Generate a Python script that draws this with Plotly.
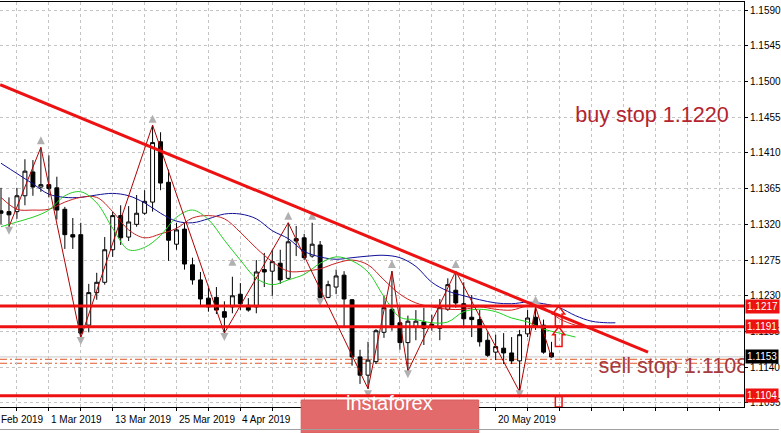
import plotly.graph_objects as go

# ---------------- data (EURUSD daily, bar index 0 = 1 Mar 2019) ----------------
bar_index = list(range(-6, 64))
opens = [1.1337, 1.1336, 1.1336, 1.1356, 1.1386, 1.1367, 1.1370, 1.1366, 1.1339, 1.1307,
         1.1307, 1.1193, 1.1234, 1.1247, 1.1288, 1.1331, 1.1304, 1.1320, 1.1334, 1.1348,
         1.1424, 1.1373, 1.1295, 1.1314, 1.1269, 1.1250, 1.1227, 1.1228, 1.1210, 1.1216,
         1.1232, 1.1218, 1.1216, 1.1263, 1.1261, 1.1271, 1.1252, 1.1302, 1.1303, 1.1280,
         1.1294, 1.1228, 1.1241, 1.1256, 1.1225, 1.1153, 1.1130, 1.1147, 1.1184, 1.1213,
         1.1196, 1.1171, 1.1191, 1.1197, 1.1194, 1.1189, 1.1213, 1.1237, 1.1220, 1.1203,
         1.1200, 1.1174, 1.1159, 1.1164, 1.1158, 1.1148, 1.1182, 1.1203, 1.1193, 1.1158]
highs = [1.1366, 1.1354, 1.1366, 1.1402, 1.1401, 1.1417, 1.1407, 1.1380, 1.1342, 1.1328,
         1.1322, 1.1245, 1.1259, 1.1304, 1.1336, 1.1344, 1.1343, 1.1357, 1.1363, 1.1445,
         1.1436, 1.1389, 1.1322, 1.1322, 1.1278, 1.1260, 1.1240, 1.1241, 1.1223, 1.1254,
         1.1246, 1.1227, 1.1275, 1.1284, 1.1288, 1.1288, 1.1322, 1.1318, 1.1308, 1.1322,
         1.1299, 1.1249, 1.1263, 1.1261, 1.1226, 1.1162, 1.1172, 1.1188, 1.1230, 1.1261,
         1.1216, 1.1205, 1.1212, 1.1215, 1.1206, 1.1226, 1.1252, 1.1261, 1.1247, 1.1231,
         1.1212, 1.1184, 1.1181, 1.1183, 1.1178, 1.1187, 1.1212, 1.1216, 1.1200, 1.1172]
lows = [1.1320, 1.1317, 1.1327, 1.1344, 1.1356, 1.1361, 1.1354, 1.1326, 1.1289, 1.1289,
        1.1177, 1.1184, 1.1225, 1.1244, 1.1279, 1.1294, 1.1299, 1.1317, 1.1332, 1.1336,
        1.1363, 1.1274, 1.1288, 1.1263, 1.1244, 1.1217, 1.1210, 1.1207, 1.1183, 1.1208,
        1.1212, 1.1210, 1.1208, 1.1241, 1.1230, 1.1245, 1.1250, 1.1280, 1.1275, 1.1278,
        1.1226, 1.1227, 1.1232, 1.1191, 1.1142, 1.1119, 1.1113, 1.1144, 1.1177, 1.1186,
        1.1162, 1.1135, 1.1174, 1.1168, 1.1186, 1.1174, 1.1211, 1.1215, 1.1191, 1.1178,
        1.1166, 1.1153, 1.1149, 1.1144, 1.1144, 1.1109, 1.1178, 1.1187, 1.1157, 1.1152]
closes = [1.1334, 1.1332, 1.1356, 1.1387, 1.1367, 1.1370, 1.1365, 1.1338, 1.1307, 1.1304,
          1.1183, 1.1234, 1.1247, 1.1288, 1.1331, 1.1303, 1.1323, 1.1334, 1.1349, 1.1423,
          1.1372, 1.1300, 1.1313, 1.1270, 1.1250, 1.1226, 1.1216, 1.1212, 1.1203, 1.1230,
          1.1220, 1.1212, 1.1260, 1.1260, 1.1273, 1.1250, 1.1298, 1.1299, 1.1278, 1.1295,
          1.1228, 1.1244, 1.1255, 1.1226, 1.1153, 1.1130, 1.1149, 1.1186, 1.1215, 1.1193,
          1.1171, 1.1198, 1.1198, 1.1189, 1.1191, 1.1215, 1.1244, 1.1221, 1.1201, 1.1200,
          1.1172, 1.1155, 1.1166, 1.1158, 1.1148, 1.1181, 1.1202, 1.1192, 1.1159, 1.1153]

# Alligator lines
jaw_x = list(range(-6, 71, 2)) + [71]
jaw_y = [1.1397, 1.1384, 1.1371, 1.1358, 1.1354, 1.1354, 1.1357, 1.1359, 1.1356, 1.1347,
         1.1334, 1.1324, 1.1322, 1.1327, 1.1333, 1.1333, 1.1327, 1.1312, 1.1302, 1.1286,
         1.1279, 1.1276, 1.1278, 1.1280, 1.1281, 1.1278, 1.1267, 1.1247, 1.1236, 1.1230,
         1.1225, 1.1221, 1.1220, 1.1222, 1.1220, 1.1215, 1.1205, 1.1198, 1.1196, 1.1196]
teeth_x = list(range(-6, 69, 2))
teeth_y = [1.1354, 1.1339, 1.1338, 1.1339, 1.1348, 1.1354, 1.1354, 1.1336, 1.1313, 1.1303,
           1.1308, 1.1315, 1.1328, 1.1331, 1.1327, 1.1310, 1.1290, 1.1273, 1.1261, 1.1261,
           1.1264, 1.1271, 1.1275, 1.1269, 1.1250, 1.1232, 1.1221, 1.1216, 1.1213, 1.1213,
           1.1216, 1.1213, 1.1212, 1.1217, 1.1215, 1.1201, 1.1193, 1.1189]
lips_x = list(range(-6, 67, 2))
lips_y = [1.1317, 1.1323, 1.1329, 1.1338, 1.1356, 1.1361, 1.1347, 1.1315, 1.1288, 1.1291,
          1.1306, 1.1329, 1.1338, 1.1326, 1.1300, 1.1275, 1.1252, 1.1244, 1.1250, 1.1257,
          1.1271, 1.1279, 1.1274, 1.1260, 1.1229, 1.1203, 1.1200, 1.1196, 1.1197, 1.1210,
          1.1213, 1.1210, 1.1202, 1.1197, 1.1188, 1.1183, 1.1178]

# ZigZag vertices
zz_x = [-5, -1, 4, 13, 22, 30, 40, 43, 45, 51, 59, 61, 63]
zz_y = [1.1317, 1.1417, 1.1177, 1.1445, 1.1183, 1.1322, 1.1113, 1.1261, 1.1135, 1.1261,
        1.1109, 1.1216, 1.1152]

# Fractal markers
fr_up_x = [-1, 13, 23, 30, 33, 43, 51, 61]
fr_up_y = [1.1431, 1.1458, 1.1278, 1.1336, 1.1336, 1.1275, 1.1275, 1.1230]
fr_dn_x = [-5, 4, 22, 34, 40, 45, 59, 64]
fr_dn_y = [1.1307, 1.1168, 1.1173, 1.1217, 1.1101, 1.1126, 1.1101, 1.1597]

# Trend line
trend_x = [-6.1, 75.1]
trend_y = [1.1496, 1.1159]

# Horizontal levels
red_levels = [1.1217, 1.1191, 1.1104]
orange_levels = [1.1150, 1.1145]
bid_price = 1.1153

# Hollow up arrows (drawn objects)
arrow_x = 63.9
arrow_tips = [1.1217, 1.1191]
arrow_box = [1.1090, 1.1103]

# Axes
y_ticks = [1.1095, 1.1140, 1.1185, 1.1230, 1.1275, 1.1320, 1.1365, 1.1410, 1.1455,
           1.1500, 1.1545, 1.1590]
x_label_pos = [-8, 0, 8, 16, 24, 56]
x_label_text = ["19 Feb 2019", "1 Mar 2019", "13 Mar 2019", "25 Mar 2019", "4 Apr 2019",
                "20 May 2019"]
grid_x = list(range(-4, 88, 4))

X_MIN, X_MAX = -6.125, 87.125
Y_MIN, Y_MAX = 1.10899, 1.16001
FONT = "Liberation Sans"

fig = go.Figure()

fig.add_trace(go.Scatter(x=jaw_x, y=jaw_y, mode="lines", line=dict(color="#10109A", width=1, shape="spline"),
                         hoverinfo="skip", showlegend=False))
fig.add_trace(go.Scatter(x=teeth_x, y=teeth_y, mode="lines", line=dict(color="#CC1F1F", width=1, shape="spline"),
                         hoverinfo="skip", showlegend=False))
fig.add_trace(go.Scatter(x=lips_x, y=lips_y, mode="lines", line=dict(color="#1FD01F", width=1, shape="spline"),
                         hoverinfo="skip", showlegend=False))

fig.add_trace(go.Candlestick(
    x=bar_index, open=opens, high=highs, low=lows, close=closes,
    increasing=dict(line=dict(color="black", width=1), fillcolor="white"),
    decreasing=dict(line=dict(color="black", width=1), fillcolor="black"),
    whiskerwidth=0, hoverinfo="skip", showlegend=False))

fig.add_trace(go.Scatter(x=zz_x, y=zz_y, mode="lines", line=dict(color="#B00000", width=1),
                         hoverinfo="skip", showlegend=False))

fig.add_trace(go.Scatter(x=fr_up_x, y=fr_up_y, mode="markers",
                         marker=dict(symbol="arrow-up", size=8, color="#B0B0B0", line=dict(width=0)),
                         hoverinfo="skip", showlegend=False))
fig.add_trace(go.Scatter(x=fr_dn_x, y=fr_dn_y, mode="markers",
                         marker=dict(symbol="arrow-down", size=8, color="#B0B0B0", line=dict(width=0)),
                         hoverinfo="skip", showlegend=False))

fig.add_trace(go.Scatter(x=trend_x, y=trend_y, mode="lines", line=dict(color="#EE1111", width=3),
                         hoverinfo="skip", showlegend=False))

# text labels (clipped to the plot area)
fig.add_trace(go.Scatter(x=[75.6], y=[1.1456], mode="text", text=["buy stop 1.1220"],
                         textposition="middle center",
                         textfont=dict(family=FONT, size=21.6, color="#B3242F"),
                         hoverinfo="skip", showlegend=False))
fig.add_trace(go.Scatter(x=[68.9], y=[1.1139], mode="text", text=["sell stop 1.1108"],
                         textposition="middle right",
                         textfont=dict(family=FONT, size=21.6, color="#A63A3E"),
                         hoverinfo="skip", showlegend=False))

shapes = []
shapes.append(dict(type="line", xref="paper", x0=0, x1=1, yref="y", y0=bid_price, y1=bid_price,
                   line=dict(color="#C8C8C8", width=1), layer="between"))
for lv in orange_levels:
    shapes.append(dict(type="line", xref="paper", x0=0, x1=1, yref="y", y0=lv, y1=lv,
                       line=dict(color="#E0582A", width=1, dash="7px,3px,2px,3px"), layer="between"))
for lv in red_levels:
    shapes.append(dict(type="line", xref="paper", x0=0, x1=1, yref="y", y0=lv, y1=lv,
                       line=dict(color="#EE1111", width=3), layer="above"))

hw, sw, head = 0.75, 0.42, 0.0010
for tip in arrow_tips:
    base = tip - head
    bottom = base - 0.0015
    path = (f"M {arrow_x},{tip} L {arrow_x + hw},{base} L {arrow_x + sw},{base} "
            f"L {arrow_x + sw},{bottom} L {arrow_x - sw},{bottom} L {arrow_x - sw},{base} "
            f"L {arrow_x - hw},{base} Z")
    shapes.append(dict(type="path", xref="x", yref="y", path=path,
                       line=dict(color="#EE1111", width=1.5), fillcolor="rgba(0,0,0,0)", layer="above"))
shapes.append(dict(type="rect", xref="x", yref="y", x0=arrow_x - sw, x1=arrow_x + sw,
                   y0=arrow_box[0], y1=arrow_box[1],
                   line=dict(color="#EE1111", width=1.5), fillcolor="rgba(0,0,0,0)", layer="above"))

# logo box and window border
shapes.append(dict(type="rect", xref="paper", yref="paper", x0=302 / 746, x1=480 / 746,
                   y0=(407 - 433) / 405, y1=(407 - 400) / 405,
                   line=dict(color="#D85C5C", width=1), fillcolor="#E26A6A", layer="above"))
shapes.append(dict(type="line", xref="paper", yref="paper", x0=0, x1=781 / 746,
                   y0=(407 - 429.5) / 405, y1=(407 - 429.5) / 405,
                   line=dict(color="#A0A0A0", width=1), layer="above"))

annotations = []
for pos, txt in zip(x_label_pos, x_label_text):
    annotations.append(dict(xref="paper", yref="paper", x=(pos - X_MIN) / (X_MAX - X_MIN),
                            y=-0.012, xanchor="left", yanchor="top", text=txt, showarrow=False,
                            font=dict(family=FONT, size=10, color="black")))
annotations.append(dict(xref="paper", yref="paper", x=391 / 746, y=(407 - 416) / 405,
                        text="instaforex", showarrow=False,
                        font=dict(family=FONT, size=20, color="white")))
for lv in red_levels:
    annotations.append(dict(xref="paper", yref="y", x=1.0, y=lv, xanchor="left", xshift=1,
                            text=f"{lv:.4f}", showarrow=False, bgcolor="#EE1111", borderpad=1,
                            font=dict(family=FONT, size=10, color="white")))
annotations.append(dict(xref="paper", yref="y", x=1.0, y=bid_price, xanchor="left", xshift=1,
                        text=f"{bid_price:.4f}", showarrow=False, bgcolor="black", borderpad=1,
                        font=dict(family=FONT, size=10, color="white")))

fig.update_layout(
    width=781, height=433,
    margin=dict(l=0, r=35, t=2, b=26),
    paper_bgcolor="white", plot_bgcolor="white",
    showlegend=False, hovermode=False,
    shapes=shapes, annotations=annotations,
    font=dict(family=FONT, size=10, color="black"),
)
fig.update_xaxes(range=[X_MIN, X_MAX], tickvals=grid_x, ticktext=[""] * len(grid_x),
                 showgrid=True, gridcolor="#C4C4C4", griddash="3px,3px", gridwidth=1,
                 showline=True, linecolor="black", linewidth=1, mirror=True,
                 ticks="outside", ticklen=3, tickcolor="black",
                 zeroline=False, rangeslider=dict(visible=False), fixedrange=True)
fig.update_yaxes(range=[Y_MIN, Y_MAX], side="right", tickvals=y_ticks,
                 ticktext=[f"{v:.4f}" for v in y_ticks],
                 showgrid=True, gridcolor="#C4C4C4", griddash="3px,3px", gridwidth=1,
                 showline=True, linecolor="black", linewidth=1,
                 ticks="outside", ticklen=3, tickcolor="black",
                 tickfont=dict(family=FONT, size=10, color="black"),
                 zeroline=False, fixedrange=True)

fig.write_html("out.html", config={"displayModeBar": False},
               post_script="document.body.style.margin='0px';document.body.style.padding='0px';")
